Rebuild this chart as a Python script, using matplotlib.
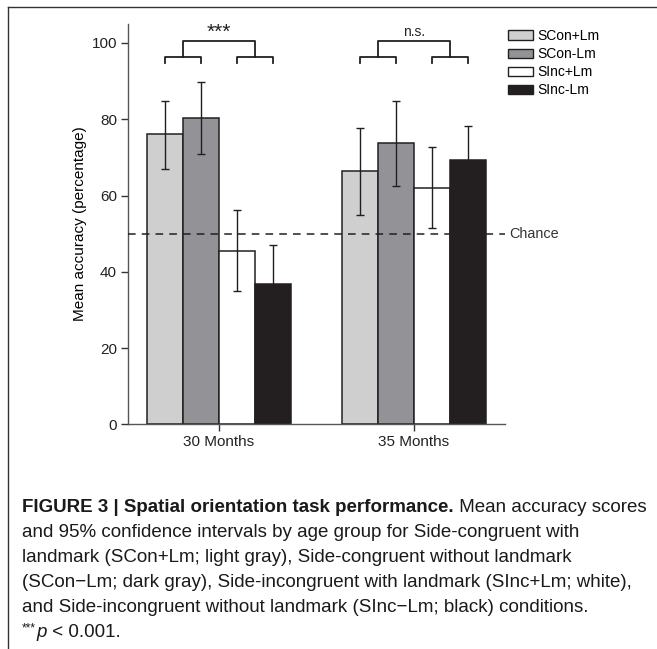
import matplotlib as mpl
import matplotlib.pyplot as plt
import numpy as np
from matplotlib.patches import Patch
from matplotlib.lines import Line2D

mpl.rcParams['font.family'] = ['Liberation Sans', 'DejaVu Sans']
fsize = 11
mpl.rcParams['font.size'] = fsize

# data
groups = ["30 Months", "35 Months"]
conditions = ["SCon+Lm", "SCon-Lm", "SInc+Lm", "SInc-Lm"]
means = {
    "SCon+Lm": [76.0, 66.5],
    "SCon-Lm": [80.2, 73.8],
    "SInc+Lm": [45.5, 61.9],
    "SInc-Lm": [36.9, 69.4],
}
ci_low = {
    "SCon+Lm": [66.9, 54.9],
    "SCon-Lm": [70.8, 62.6],
    "SInc+Lm": [34.9, 51.4],
    "SInc-Lm": [26.6, 60.4],
}
ci_high = {
    "SCon+Lm": [84.9, 77.8],
    "SCon-Lm": [89.8, 84.9],
    "SInc+Lm": [56.2, 72.6],
    "SInc-Lm": [47.0, 78.3],
}
significance = ["***", "n.s."]
chance = 50

colors = {"SCon+Lm": "#cfcfcf", "SCon-Lm": "#939397", "SInc+Lm": "#ffffff", "SInc-Lm": "#231f20"}
edge = "#231f20"

W, H = 657, 649
fig = plt.figure(figsize=(W/100, H/100), dpi=100)
ax = fig.add_axes([128/W, 224.7/H, 377/W, 400.4/H])

x = np.arange(len(groups))
width = 0.185
offsets = (np.arange(len(conditions)) - 1.5) * width

for i, c in enumerate(conditions):
    m = np.array(means[c])
    lo = m - np.array(ci_low[c])
    hi = np.array(ci_high[c]) - m
    ax.bar(x + offsets[i], m, width, color=colors[c], edgecolor=edge, linewidth=1.1, zorder=2)
    ax.errorbar(x + offsets[i], m, yerr=[lo, hi], fmt='none', ecolor=edge,
                elinewidth=1.0, capsize=3, capthick=1.0, zorder=3)

ax.axhline(chance, color=edge, lw=1.1, dashes=(5, 4), zorder=4, clip_on=False)
ax.text(1.0 + 4/377, chance, "Chance", transform=ax.get_yaxis_transform(),
        va='center', ha='left', fontsize=10.4, color='#333333')

# significance brackets
y_small, y_tick, y_top = 96.3, 94.7, 100.5
for g in range(len(groups)):
    c = x[g] + offsets
    left_mid = (c[0] + c[1]) / 2
    right_mid = (c[2] + c[3]) / 2
    for a, b in [(c[0], c[1]), (c[2], c[3])]:
        ax.plot([a, a, b, b], [y_tick, y_small, y_small, y_tick], color=edge, lw=1.3, clip_on=False)
    ax.plot([left_mid, left_mid, right_mid, right_mid], [y_small, y_top, y_top, y_small],
            color=edge, lw=1.3, clip_on=False)
    if significance[g] == "***":
        ax.text(x[g], y_top - 0.2, significance[g], ha='center', va='bottom', fontsize=15, color='#222222')
    else:
        ax.text(x[g], y_top + 0.6, significance[g], ha='center', va='bottom', fontsize=10, color='#222222')

ax.set_xlim(-0.467, 1.467)
ax.set_ylim(0, 105)
ax.set_yticks([0, 20, 40, 60, 80, 100])
ax.set_xticks(x)
ax.set_xticklabels(groups)
ax.set_ylabel("Mean accuracy (percentage)", labelpad=3)
for s in ['top', 'right']:
    ax.spines[s].set_visible(False)
for s in ['left', 'bottom']:
    ax.spines[s].set_color('#555555')
    ax.spines[s].set_linewidth(1.0)
ax.tick_params(length=5, width=1.0, color='#333333', labelcolor='#222222', pad=3)

handles = [Patch(facecolor=colors[c], edgecolor=edge, linewidth=1.0) for c in conditions]
fig.legend(handles, conditions, loc='upper left', bbox_to_anchor=(501/W, (H-22)/H),
           frameon=False, borderpad=0, handlelength=1.8, handleheight=0.65,
           labelspacing=0.3, handletextpad=0.3, fontsize=10)

# panel border
fig.add_artist(Line2D([8/W, 8/W], [0, (H-7)/H], color='#333333', lw=1.0))
fig.add_artist(Line2D([8/W, 1], [(H-7)/H, (H-7)/H], color='#333333', lw=1.0))

# caption
cap_fs = 13.5
renderer = fig.canvas.get_renderer()

def put(xpix, ybase, s, **kw):
    t = fig.text(xpix/W, 1 - ybase/H, s, va='baseline', ha='left', fontsize=kw.pop('fontsize', cap_fs), color='#1a1a1a', **kw)
    return xpix + t.get_window_extent(renderer).width

base = [511.5 + 25.1*i for i in range(6)]
xe = put(22, base[0], "FIGURE 3 | Spatial orientation task performance.", fontweight='bold')
put(xe, base[0], " Mean accuracy scores")
put(22, base[1], "and 95% confidence intervals by age group for Side-congruent with")
put(22, base[2], "landmark (SCon+Lm; light gray), Side-congruent without landmark")
put(22, base[3], "(SCon\u2212Lm; dark gray), Side-incongruent with landmark (SInc+Lm; white),")
put(22, base[4], "and Side-incongruent without landmark (SInc\u2212Lm; black) conditions.")
xe = put(22, base[5] - 6, "***", fontsize=8.5)
xe = put(xe + 1, base[5], "p", style='italic')
put(xe, base[5], " < 0.001.")

fig.savefig("out.png", dpi=100)
